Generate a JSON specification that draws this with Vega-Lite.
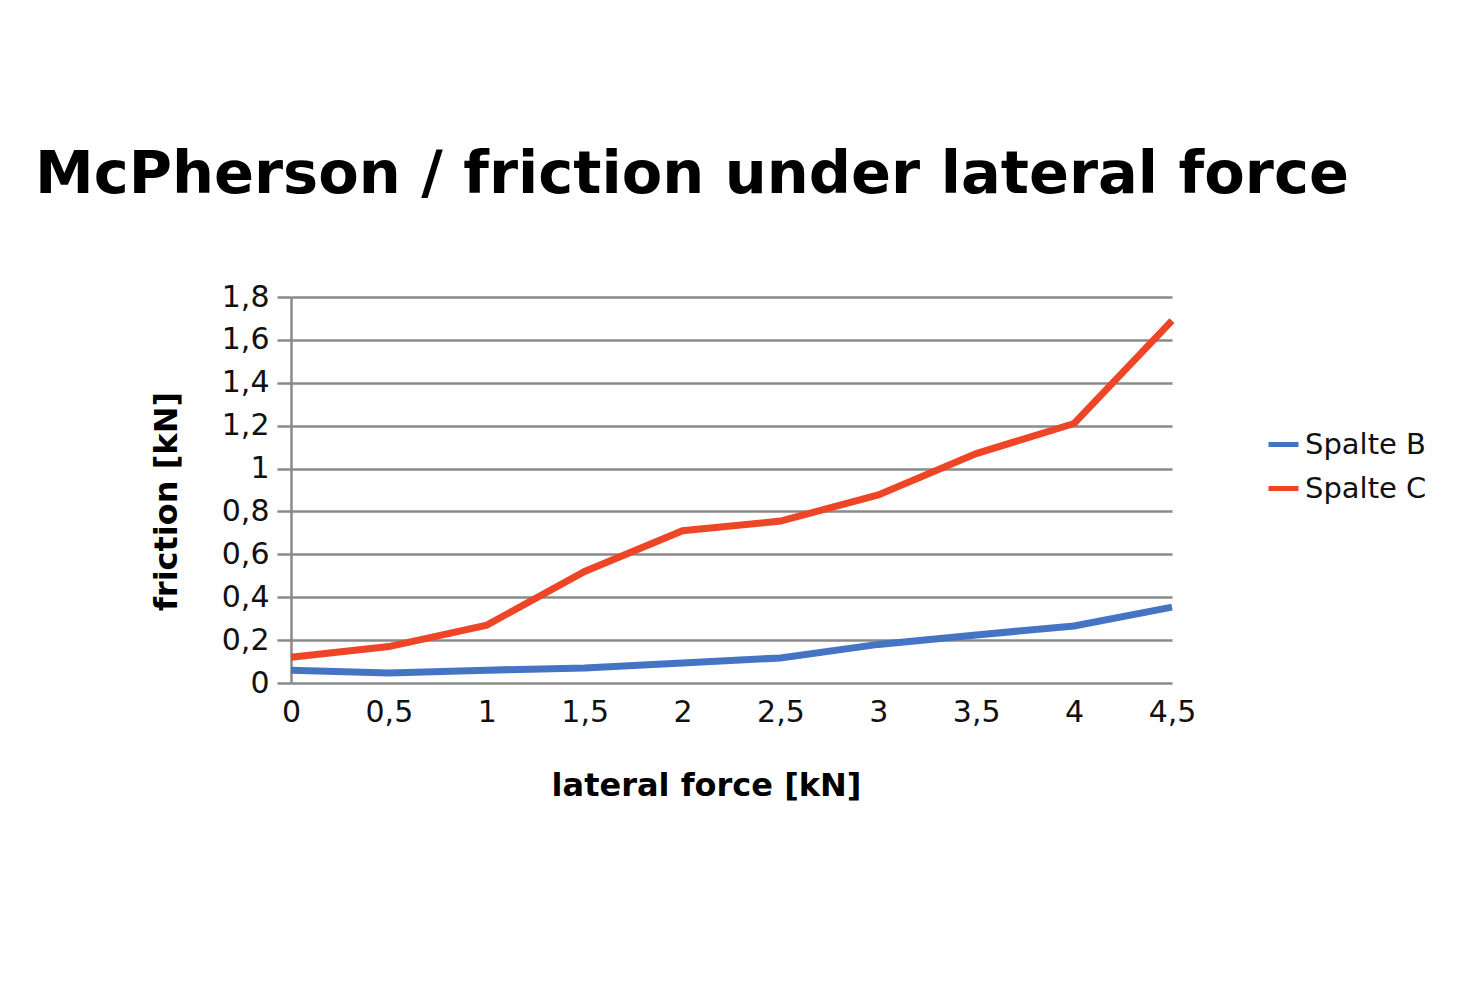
{
  "$schema": "https://vega.github.io/schema/vega-lite/v6.json",
  "autosize": {"type": "none"},
  "width": 881,
  "height": 386,
  "padding": {"left": 291, "top": 297, "right": 287, "bottom": 304},
  "background": "white",
  "title": {
    "text": "McPherson / friction under lateral force",
    "anchor": "start",
    "frame": "group",
    "dx": -256,
    "font": "DejaVu Sans",
    "fontSize": 59,
    "fontWeight": "bold",
    "color": "#000000",
    "offset": 77
  },
  "data": {
    "values": [
      {"x": 0, "series": "Spalte B", "y": 0.06},
      {"x": 0.5, "series": "Spalte B", "y": 0.047},
      {"x": 1, "series": "Spalte B", "y": 0.06},
      {"x": 1.5, "series": "Spalte B", "y": 0.07},
      {"x": 2, "series": "Spalte B", "y": 0.093},
      {"x": 2.5, "series": "Spalte B", "y": 0.117},
      {"x": 3, "series": "Spalte B", "y": 0.18},
      {"x": 3.5, "series": "Spalte B", "y": 0.224},
      {"x": 4, "series": "Spalte B", "y": 0.266},
      {"x": 4.5, "series": "Spalte B", "y": 0.354},
      {"x": 0, "series": "Spalte C", "y": 0.12},
      {"x": 0.5, "series": "Spalte C", "y": 0.17},
      {"x": 1, "series": "Spalte C", "y": 0.27},
      {"x": 1.5, "series": "Spalte C", "y": 0.52},
      {"x": 2, "series": "Spalte C", "y": 0.71},
      {"x": 2.5, "series": "Spalte C", "y": 0.755},
      {"x": 3, "series": "Spalte C", "y": 0.877},
      {"x": 3.5, "series": "Spalte C", "y": 1.07},
      {"x": 4, "series": "Spalte C", "y": 1.21},
      {"x": 4.5, "series": "Spalte C", "y": 1.69}
    ]
  },
  "mark": {"type": "line", "strokeWidth": 7, "strokeJoin": "miter", "strokeCap": "butt"},
  "encoding": {
    "x": {
      "field": "x",
      "type": "quantitative",
      "scale": {"domain": [0, 4.5], "nice": false, "zero": false},
      "axis": {
        "title": "lateral force [kN]",
        "values": [0, 0.5, 1, 1.5, 2, 2.5, 3, 3.5, 4, 4.5],
        "labelExpr": "replace(format(datum.value, '~g'), '.', ',')",
        "labelFlush": false,
        "labelOverlap": false,
        "grid": false,
        "ticks": false,
        "domain": false,
        "labelPadding": 14,
        "labelFontSize": 30,
        "labelFont": "DejaVu Sans",
        "labelColor": "#111111",
        "titleFont": "DejaVu Sans",
        "titleFontSize": 32,
        "titleFontWeight": "bold",
        "titleColor": "#000000",
        "titleX": 415,
        "titleY": 112,
        "titleBaseline": "alphabetic",
        "titleAlign": "center"
      }
    },
    "y": {
      "field": "y",
      "type": "quantitative",
      "scale": {"domain": [0, 1.8], "nice": false},
      "axis": {
        "title": "friction [kN]",
        "values": [0, 0.2, 0.4, 0.6, 0.8, 1, 1.2, 1.4, 1.6, 1.8],
        "labelExpr": "replace(format(datum.value, '~g'), '.', ',')",
        "labelOverlap": false,
        "grid": true,
        "gridColor": "#8a8a8a",
        "gridWidth": 2.5,
        "gridOpacity": 1,
        "domain": true,
        "domainColor": "#8a8a8a",
        "domainWidth": 2.5,
        "ticks": true,
        "tickColor": "#8a8a8a",
        "tickWidth": 2.5,
        "tickSize": 14,
        "labelPadding": 8,
        "labelFontSize": 30,
        "labelFont": "DejaVu Sans",
        "labelColor": "#111111",
        "titleFont": "DejaVu Sans",
        "titleFontSize": 32,
        "titleFontWeight": "bold",
        "titleColor": "#000000",
        "titleX": -125,
        "titleY": 204,
        "titleBaseline": "middle",
        "titleAlign": "center",
        "titleAngle": -90
      }
    },
    "color": {
      "field": "series",
      "type": "nominal",
      "scale": {"domain": ["Spalte B", "Spalte C"], "range": ["#4574c4", "#ee4526"]},
      "legend": {
        "title": null,
        "orient": "none",
        "legendX": 975,
        "legendY": 130,
        "symbolType": "stroke",
        "symbolSize": 900,
        "symbolStrokeWidth": 5,
        "labelFontSize": 29,
        "labelFont": "DejaVu Sans",
        "labelColor": "#111111",
        "labelOffset": 4,
        "rowPadding": 11
      }
    }
  },
  "config": {"view": {"stroke": null}}
}
